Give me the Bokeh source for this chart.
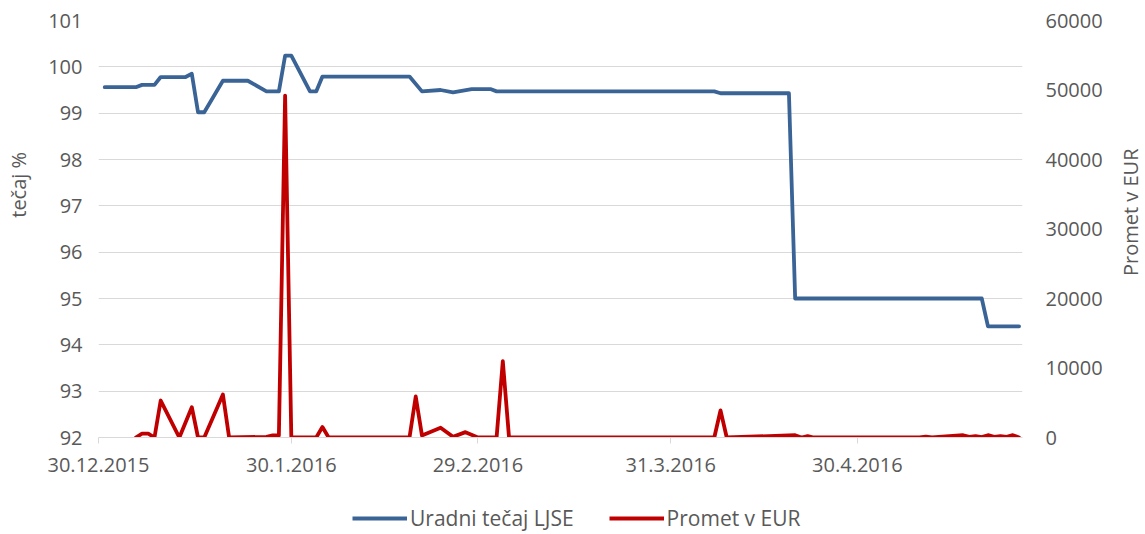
import math
import pandas as pd
from bokeh.plotting import figure
from bokeh.layouts import column, row
from bokeh.models import (Range1d, LinearAxis, FixedTicker, Legend, LegendItem,
                          Title, ColumnDataSource)
from bokeh.embed import file_html
from bokeh.resources import INLINE

# ---------------- data ----------------
tecaj_dates = ["2015-12-31", "2016-01-05", "2016-01-06", "2016-01-08", "2016-01-09",
               "2016-01-13", "2016-01-14", "2016-01-15", "2016-01-16", "2016-01-19",
               "2016-01-23", "2016-01-26", "2016-01-28", "2016-01-29", "2016-01-30",
               "2016-02-02", "2016-02-03", "2016-02-04", "2016-02-18", "2016-02-20",
               "2016-02-23", "2016-02-25", "2016-02-28", "2016-03-02", "2016-03-03",
               "2016-04-07", "2016-04-08", "2016-04-19", "2016-04-20", "2016-05-20",
               "2016-05-21", "2016-05-26"]
tecaj_values = [99.56, 99.56, 99.61, 99.61, 99.78,
                99.78, 99.85, 99.02, 99.02, 99.70,
                99.70, 99.47, 99.47, 100.24, 100.24,
                99.47, 99.47, 99.79, 99.79, 99.47,
                99.50, 99.45, 99.52, 99.52, 99.47,
                99.47, 99.43, 99.43, 95.0, 95.0,
                94.4, 94.4]

promet_dates = ["2016-01-05", "2016-01-06", "2016-01-07", "2016-01-08", "2016-01-09",
                "2016-01-12", "2016-01-14", "2016-01-15", "2016-01-16", "2016-01-19",
                "2016-01-20", "2016-01-26", "2016-01-27", "2016-01-28", "2016-01-29",
                "2016-01-30", "2016-02-03", "2016-02-04", "2016-02-05", "2016-02-18",
                "2016-02-19", "2016-02-20", "2016-02-23", "2016-02-25", "2016-02-27",
                "2016-02-29", "2016-03-03", "2016-03-04", "2016-03-05", "2016-04-07",
                "2016-04-08", "2016-04-09", "2016-04-20", "2016-04-21", "2016-04-22",
                "2016-04-23", "2016-05-10", "2016-05-11", "2016-05-12", "2016-05-17",
                "2016-05-18", "2016-05-19", "2016-05-20", "2016-05-21", "2016-05-22",
                "2016-05-23", "2016-05-24", "2016-05-25", "2016-05-26"]
promet_values = [0, 550, 550, 0, 5320,
                 0, 4360, 0, 0, 6190,
                 0, 100, 300, 300, 49200,
                 0, 0, 1500, 0, 0,
                 5900, 300, 1400, 100, 770,
                 0, 0, 10980, 0, 0,
                 3900, 0, 330, 0, 200,
                 0, 0, 120, 0, 330,
                 80, 200, 50, 330, 100,
                 200, 100, 330, 0]

left_ticks = [92, 93, 94, 95, 96, 97, 98, 99, 100, 101]
right_ticks = [0, 10000, 20000, 30000, 40000, 50000, 60000]
x_tick_dates = ["2015-12-30", "2016-01-30", "2016-02-29", "2016-03-31", "2016-04-30"]
x_tick_labels = ["30.12.2015", "30.1.2016", "29.2.2016", "31.3.2016", "30.4.2016"]

series_names = ["Uradni tečaj LJSE", "Promet v EUR"]
left_title = "tečaj %"
right_title = "Promet v EUR"

# ---------------- style ----------------
FONT = "Open Sans"
TXT = "#595959"
GRID = "#d9d9d9"
BLUE = "#3a6396"
RED = "#c00000"
NB = "\u00a0"
LW = 3.8

t_src = ColumnDataSource(dict(x=pd.to_datetime(tecaj_dates), y=tecaj_values))
p_src = ColumnDataSource(dict(x=pd.to_datetime(promet_dates), y=promet_values))

base = pd.Timestamp("2015-12-30")
x_start = base
x_end = base + pd.Timedelta(days=148.55)

MAIN_H = 487
RIGHT_B = 81
p = figure(frame_width=924, frame_height=417, output_backend="svg", toolbar_location=None,
           x_axis_type="datetime",
           x_range=Range1d(x_start, x_end), y_range=Range1d(92, 101),
           min_border_left=98, min_border_right=RIGHT_B, min_border_top=20,
           min_border_bottom=MAIN_H - 437)
p.outline_line_color = None
p.background_fill_color = "white"
p.border_fill_color = "white"

p.extra_y_ranges = {"eur": Range1d(0, 60000)}

r1 = p.line("x", "y", source=t_src, line_color=BLUE, line_width=LW,
            line_join="round", line_cap="round")
r2 = p.line("x", "y", source=p_src, line_color=RED, line_width=LW,
            line_join="round", line_cap="round", y_range_name="eur")

# x axis
tick_ms = [float((pd.Timestamp(d) - pd.Timestamp("1970-01-01")) / pd.Timedelta(milliseconds=1))
           for d in x_tick_dates]
xa = p.xaxis[0]
xa.ticker = FixedTicker(ticks=tick_ms)
xa.major_label_overrides = {t: lab for t, lab in zip(tick_ms, x_tick_labels)}
xa.axis_line_color = GRID
xa.major_tick_line_color = GRID
xa.major_tick_out = 6
xa.major_tick_in = 0
xa.minor_tick_line_color = None
xa.major_label_standoff = 14
xa.major_label_text_font = FONT
xa.major_label_text_font_size = "20px"
xa.major_label_text_color = TXT

# left axis
ya = p.yaxis[0]
ya.ticker = FixedTicker(ticks=left_ticks)
ya.axis_line_color = None
ya.major_tick_line_color = None
ya.major_tick_out = 0
ya.major_tick_in = 0
ya.minor_tick_line_color = None
ya.minor_tick_out = 0
ya.major_label_standoff = 16
ya.major_label_text_font = FONT
ya.major_label_text_font_size = "20px"
ya.major_label_text_color = TXT
ya.axis_label = NB * 17 + left_title
ya.axis_label_standoff = 13
ya.axis_label_text_font = FONT
ya.axis_label_text_font_size = "20px"
ya.axis_label_text_font_style = "normal"
ya.axis_label_text_color = TXT

# right axis
ra = LinearAxis(y_range_name="eur", ticker=FixedTicker(ticks=right_ticks))
ra.axis_line_color = None
ra.major_tick_line_color = None
ra.major_tick_out = 0
ra.major_tick_in = 0
ra.minor_tick_line_color = None
ra.minor_tick_out = 0
ra.major_label_standoff = 23
ra.major_label_text_align = "left"
ra.major_label_text_font = FONT
ra.major_label_text_font_size = "20px"
ra.major_label_text_color = TXT
p.add_layout(ra, "right")

p.xgrid.grid_line_color = None
p.ygrid.ticker = FixedTicker(ticks=left_ticks)
p.ygrid.grid_line_color = GRID
p.ygrid.grid_line_width = 1

# right axis title (narrow strip to the right, text reads bottom-to-top)
SIDE_W = 1145 - (98 + 924 + RIGHT_B)
side = figure(frame_width=1, frame_height=417, output_backend="svg", toolbar_location=None,
              x_range=Range1d(0, 1), y_range=Range1d(0, 1),
              x_axis_location=None, y_axis_location=None,
              min_border_left=SIDE_W - 1, min_border_right=0,
              min_border_top=20, min_border_bottom=MAIN_H - 437)
side.outline_line_color = None
side.xgrid.visible = False
side.ygrid.visible = False
side.add_layout(Title(text=right_title, align="right", offset=128, standoff=5,
                      vertical_align="bottom",
                      text_font=FONT, text_font_size="20px", text_font_style="normal",
                      text_color=TXT), "left")

# legend strip below the chart
LEG_H = 534 - MAIN_H
leg = figure(frame_width=924, frame_height=LEG_H, output_backend="svg", toolbar_location=None,
             x_range=Range1d(0, 1), y_range=Range1d(0, 1),
             x_axis_location=None, y_axis_location=None,
             min_border_left=98, min_border_right=1145 - 98 - 924,
             min_border_top=0, min_border_bottom=0)
leg.outline_line_color = None
leg.xgrid.visible = False
leg.ygrid.visible = False
d1 = leg.line(x=[0.0, 1.0], y=[float("nan"), float("nan")], line_color=BLUE, line_width=LW)
d2 = leg.line(x=[0.0, 1.0], y=[float("nan"), float("nan")], line_color=RED, line_width=LW)

legend = Legend(items=[LegendItem(label=series_names[0], renderers=[d1]),
                       LegendItem(label=series_names[1], renderers=[d2])],
                orientation="horizontal", location=(254, 2),
                glyph_width=55, glyph_height=20, label_standoff=3, spacing=35,
                padding=0, margin=0, border_line_color=None,
                background_fill_alpha=0,
                label_text_font=FONT, label_text_font_size="21px",
                label_text_color=TXT, label_height=20)
leg.add_layout(legend, "center")

layout = column(row(p, side, spacing=0), leg, spacing=0)
open("out.html", "w").write(file_html(layout, INLINE))
